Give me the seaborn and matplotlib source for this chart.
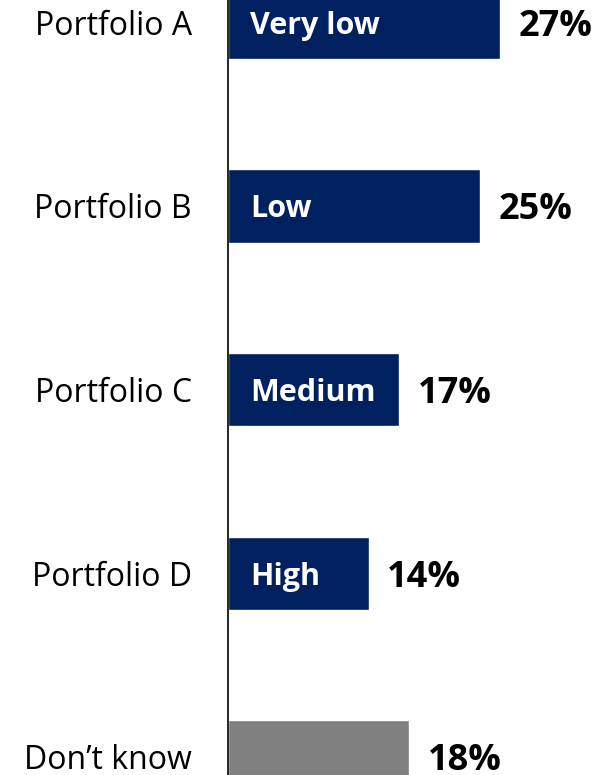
import matplotlib
matplotlib.use("Agg")
import matplotlib.pyplot as plt
import seaborn as sns
import pandas as pd

categories = ["Portfolio A", "Portfolio B", "Portfolio C", "Portfolio D", "Don\u2019t know"]
values = [27, 25, 17, 14, 18]
inner_labels = ["Very low", "Low", "Medium", "High", ""]
colors = ["#002060", "#002060", "#002060", "#002060", "#808080"]

sns.set_style("white")
plt.rcParams["font.family"] = ["Open Sans", "DejaVu Sans"]

df = pd.DataFrame({"cat": categories, "val": values})

fig = plt.figure(figsize=(6.08, 7.75), dpi=100)
ax = fig.add_axes([228 / 608, 0, 380 / 608, 1])
sns.barplot(data=df, y="cat", x="val", hue="cat", palette=colors, orient="h",
            width=0.4, legend=False, ax=ax, saturation=1)

ax.set_xlim(0, 37.7)
ax.set_ylim(4.098, -0.12)
ax.set_xlabel("")
ax.set_ylabel("")
ax.set_xticks([])
ax.tick_params(axis="y", length=0, pad=26, labelsize=23)
for lab in ax.get_yticklabels():
    lab.set_color("black")
    lab.set_verticalalignment("center_baseline")
for s in ["top", "right", "bottom"]:
    ax.spines[s].set_visible(False)
ax.spines["left"].set_color("black")
ax.spines["left"].set_linewidth(1.2)

for i, (v, t) in enumerate(zip(values, inner_labels)):
    ax.text(v + 1.8, i, f"{v}%", va="center_baseline", ha="left", fontsize=26,
            fontweight="bold", color="black")
    if t:
        ax.text(2.2, i, t, va="center_baseline", ha="left", fontsize=22,
                fontweight="bold", color="white")

fig.savefig("out.png", dpi=100)
